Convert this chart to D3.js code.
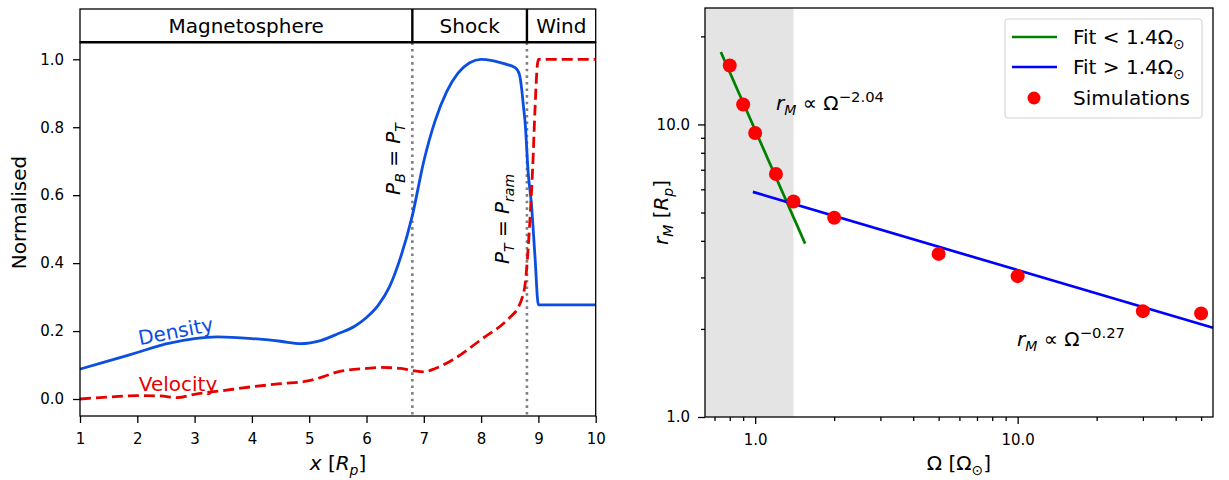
<!DOCTYPE html>
<html>
<head>
<meta charset="utf-8">
<script src="https://cdn.jsdelivr.net/npm/d3@7"></script>
<style>
  body { margin: 0; background: #fff; }
  svg { display: block; font-family: "DejaVu Sans", sans-serif; }
  text { white-space: pre; }
</style>
</head>
<body>
<div id="chart"></div>
<script>
// left panel: profiles along x
const densX = [1, 1.5, 2, 2.5, 3, 3.4, 4, 4.5, 4.85, 5.2, 5.5, 5.8, 6.0, 6.2, 6.4, 6.6, 6.8, 7.0, 7.2, 7.4, 7.6, 7.8, 8.0, 8.2, 8.4, 8.6, 8.67, 8.71, 8.74, 8.77, 8.82, 8.88, 8.94, 9.0, 10];
const density = [0.088, 0.112, 0.137, 0.162, 0.178, 0.183, 0.178, 0.17, 0.163, 0.172, 0.192, 0.215, 0.24, 0.275, 0.33, 0.42, 0.54, 0.70, 0.82, 0.905, 0.96, 0.99, 1.0, 0.996, 0.987, 0.975, 0.955, 0.91, 0.86, 0.81, 0.67, 0.57, 0.42, 0.277, 0.277];
const velX = [1, 1.5, 2, 2.4, 2.7, 3.0, 3.5, 4, 4.5, 5, 5.25, 5.5, 6.0, 6.25, 6.6, 6.8, 7.0, 7.2, 7.5, 8.0, 8.5, 8.65, 8.72, 8.77, 8.82, 8.86, 8.9, 8.94, 8.98, 9.0, 10];
const velocity = [0, 0.006, 0.01, 0.009, 0.004, 0.014, 0.025, 0.036, 0.045, 0.054, 0.066, 0.08, 0.09, 0.093, 0.09, 0.084, 0.08, 0.09, 0.115, 0.175, 0.24, 0.27, 0.30, 0.34, 0.44, 0.55, 0.68, 0.85, 0.98, 1.0, 1.0];
const boundaries = [6.8, 8.8];
const regions = [["Magnetosphere", 1, 6.8], ["Shock", 6.8, 8.8], ["Wind", 8.8, 10]];
const xTicksL = [1, 2, 3, 4, 5, 6, 7, 8, 9, 10];
const yTicksL = [0, 0.2, 0.4, 0.6, 0.8, 1.0];

// right panel: magnetopause distance vs rotation rate
const omega = [0.8, 0.9, 1.0, 1.2, 1.4, 2, 5, 10, 30, 50];
const rM = [15.9, 11.7, 9.35, 6.77, 5.45, 4.8, 3.61, 3.03, 2.30, 2.26];
const fitLow = { a: 9.57, k: -2.04, from: 0.74, to: 1.55 };
const fitHigh = { a: 5.85, k: -0.265, from: 0.98, to: 55.5 };
const shadeTo = 1.4;
const xTicksR = [1, 10];
const xMinorR = [0.7, 0.8, 0.9, 2, 3, 4, 5, 6, 7, 8, 9, 20, 30, 40, 50];
const yTicksR = [1, 10];
const yMinorR = [2, 3, 4, 5, 6, 7, 8, 9, 20];

const W = 1229, H = 480;
const blueL = "#0b4ee0", redL = "#e60000";

const svg = d3.select("#chart").append("svg")
    .attr("width", W)
    .attr("height", H);

// write a label made of plain / italic / sub / sup pieces
const mathText = (g, parts, fs) => {
    const t = g.append("text").attr("font-size", fs);
    let shift = 0;
    parts.forEach(p => {
        let target = p.sub ? 0.24 * fs : p.sup ? -0.4 * fs : 0;
        t.append("tspan")
            .text(p.t)
            .attr("dy", target - shift)
            .attr("font-size", p.sub ? fs * 0.7 : p.sup ? fs * 0.74 : fs)
            .attr("font-style", p.it ? "italic" : "normal");
        shift = target;
    });
    return t;
};

const styleAxis = (g) => {
    g.select(".domain").remove();
    g.selectAll(".tick line").attr("stroke", "#000").attr("stroke-width", 1.3);
    g.selectAll(".tick text").attr("font-size", 15).attr("fill", "#000")
        .attr("font-family", "DejaVu Sans");
};

// ---------------- left panel ----------------
const xL = d3.scaleLinear().domain([1, 10]).range([80, 595.7]);
const yL = d3.scaleLinear().domain([-0.05, 1.05]).range([416, 42.3]);
const headTop = 9;

const left = svg.append("g");

left.append("g")
    .attr("transform", "translate(0,416)")
    .call(d3.axisBottom(xL).tickValues(xTicksL).tickSize(7).tickPadding(10).tickFormat(d3.format("d")))
    .call(styleAxis);

left.append("g")
    .attr("transform", "translate(80,0)")
    .call(d3.axisLeft(yL).tickValues(yTicksL).tickSize(7).tickPadding(9).tickFormat(d3.format(".1f")))
    .call(styleAxis);

// boundaries
left.selectAll(".bound")
    .data(boundaries)
    .enter()
    .append("line")
    .attr("x1", d => xL(d)).attr("x2", d => xL(d))
    .attr("y1", yL.range()[1]).attr("y2", yL.range()[0])
    .attr("stroke", "#808080")
    .attr("stroke-width", 2.6)
    .attr("stroke-dasharray", "2.6,4");

const lineL = d3.line()
    .x(d => xL(d[0]))
    .y(d => yL(d[1]))
    .curve(d3.curveMonotoneX);

left.append("path")
    .attr("d", lineL(densX.map((x, i) => [x, density[i]])))
    .attr("fill", "none")
    .attr("stroke", blueL)
    .attr("stroke-width", 2.8);

left.append("path")
    .attr("d", lineL(velX.map((x, i) => [x, velocity[i]])))
    .attr("fill", "none")
    .attr("stroke", redL)
    .attr("stroke-width", 2.8)
    .attr("stroke-dasharray", "11,5");

left.append("text")
    .attr("transform", "translate(177,338) rotate(-11)")
    .attr("text-anchor", "middle")
    .attr("font-size", 20)
    .attr("fill", blueL)
    .text("Density");

left.append("text")
    .attr("x", 178).attr("y", 391)
    .attr("text-anchor", "middle")
    .attr("font-size", 20)
    .attr("fill", redL)
    .text("Velocity");

mathText(left, [{ t: "P", it: 1 }, { t: "B", it: 1, sub: 1 }, { t: " = " }, { t: "P", it: 1 }, { t: "T", it: 1, sub: 1 }], 20)
    .attr("transform", "translate(400,159) rotate(-90)")
    .attr("text-anchor", "middle");

mathText(left, [{ t: "P", it: 1 }, { t: "T", it: 1, sub: 1 }, { t: " = " }, { t: "P", it: 1 }, { t: "ram", it: 1, sub: 1 }], 20)
    .attr("transform", "translate(509,219) rotate(-90)")
    .attr("text-anchor", "middle");

// frame
left.append("rect")
    .attr("x", xL.range()[0]).attr("y", yL.range()[1])
    .attr("width", xL.range()[1] - xL.range()[0])
    .attr("height", yL.range()[0] - yL.range()[1])
    .attr("fill", "none").attr("stroke", "#000").attr("stroke-width", 1.3);

// region header
left.append("rect")
    .attr("x", xL.range()[0]).attr("y", headTop)
    .attr("width", xL.range()[1] - xL.range()[0])
    .attr("height", yL.range()[1] - headTop)
    .attr("fill", "none").attr("stroke", "#000").attr("stroke-width", 1.3);
left.append("line")
    .attr("x1", xL.range()[0]).attr("x2", xL.range()[1])
    .attr("y1", yL.range()[1]).attr("y2", yL.range()[1])
    .attr("stroke", "#000").attr("stroke-width", 2.6);
left.selectAll(".div")
    .data(boundaries)
    .enter()
    .append("line")
    .attr("x1", d => xL(d)).attr("x2", d => xL(d))
    .attr("y1", headTop).attr("y2", yL.range()[1])
    .attr("stroke", "#000").attr("stroke-width", 2.4);
left.selectAll(".region")
    .data(regions)
    .enter()
    .append("text")
    .attr("x", d => (xL(d[1]) + xL(d[2])) / 2)
    .attr("y", 33)
    .attr("text-anchor", "middle")
    .attr("font-size", 20)
    .text(d => d[0]);

mathText(left, [{ t: "Normalised" }], 20)
    .attr("transform", "translate(26,212.5) rotate(-90)")
    .attr("text-anchor", "middle");

mathText(left, [{ t: "x", it: 1 }, { t: " [" }, { t: "R", it: 1 }, { t: "p", it: 1, sub: 1 }, { t: "]" }], 20)
    .attr("x", 338).attr("y", 470)
    .attr("text-anchor", "middle");

// ---------------- right panel ----------------
const xR = d3.scaleLog().domain([0.644, 55.5]).range([705, 1213]);
const yR = d3.scaleLog().domain([1, 25]).range([417, 8]);

const right = svg.append("g");

right.append("rect")
    .attr("x", xR.range()[0]).attr("y", yR.range()[1])
    .attr("width", xR(shadeTo) - xR.range()[0])
    .attr("height", yR.range()[0] - yR.range()[1])
    .attr("fill", "#e4e4e4");

right.append("g")
    .attr("transform", "translate(0,417)")
    .call(d3.axisBottom(xR).tickValues(xTicksR).tickSize(7).tickPadding(10).tickFormat(d3.format(".1f")))
    .call(styleAxis);
right.append("g")
    .attr("transform", "translate(0,417)")
    .call(d3.axisBottom(xR).tickValues(xMinorR).tickSize(4).tickFormat(""))
    .call(styleAxis);
right.append("g")
    .attr("transform", "translate(705,0)")
    .call(d3.axisLeft(yR).tickValues(yTicksR).tickSize(7).tickPadding(8).tickFormat(d3.format(".1f")))
    .call(styleAxis);
right.append("g")
    .attr("transform", "translate(705,0)")
    .call(d3.axisLeft(yR).tickValues(yMinorR).tickSize(4).tickFormat(""))
    .call(styleAxis);

const fitLine = (f) => d3.line()
    .x(d => xR(d))
    .y(d => yR(f.a * Math.pow(d, f.k)))([f.from, f.to]);

right.append("path")
    .attr("d", fitLine(fitLow))
    .attr("stroke", "#008000").attr("stroke-width", 2.7).attr("fill", "none");
right.append("path")
    .attr("d", fitLine(fitHigh))
    .attr("stroke", "#0000ff").attr("stroke-width", 2.7).attr("fill", "none");

right.append("g")
    .selectAll("circle")
    .data(omega)
    .enter()
    .append("circle")
    .attr("cx", d => xR(d))
    .attr("cy", (d, i) => yR(rM[i]))
    .attr("r", 7)
    .attr("fill", "#ff0000");

mathText(right, [{ t: "r", it: 1 }, { t: "M", it: 1, sub: 1 }, { t: " ∝ Ω" }, { t: "−2.04", sup: 1 }], 20)
    .attr("x", 776).attr("y", 110);
mathText(right, [{ t: "r", it: 1 }, { t: "M", it: 1, sub: 1 }, { t: " ∝ Ω" }, { t: "−0.27", sup: 1 }], 20)
    .attr("x", 1017).attr("y", 346);

right.append("rect")
    .attr("x", xR.range()[0]).attr("y", yR.range()[1])
    .attr("width", xR.range()[1] - xR.range()[0])
    .attr("height", yR.range()[0] - yR.range()[1])
    .attr("fill", "none").attr("stroke", "#000").attr("stroke-width", 1.3);

// legend
const legend = right.append("g").attr("transform", "translate(1005,19)");
legend.append("rect")
    .attr("width", 197).attr("height", 99).attr("rx", 3)
    .attr("fill", "#fff").attr("fill-opacity", 0.8)
    .attr("stroke", "#d0d0d0").attr("stroke-width", 1);
const legItems = [
    { c: "#008000", sym: "<", y: 18 },
    { c: "#0000ff", sym: ">", y: 48 }
];
legItems.forEach(it => {
    legend.append("line")
        .attr("x1", 7).attr("x2", 52).attr("y1", it.y).attr("y2", it.y)
        .attr("stroke", it.c).attr("stroke-width", 2.7);
    mathText(legend, [{ t: "Fit " + it.sym + " 1.4Ω" }, { t: "⊙", sub: 1 }], 20)
        .attr("x", 68).attr("y", it.y + 7);
});
legend.append("circle")
    .attr("cx", 29).attr("cy", 79).attr("r", 6.5).attr("fill", "#ff0000");
legend.append("text")
    .attr("x", 68).attr("y", 86)
    .attr("font-size", 20)
    .text("Simulations");

mathText(right, [{ t: "r", it: 1 }, { t: "M", it: 1, sub: 1 }, { t: " [" }, { t: "R", it: 1 }, { t: "p", it: 1, sub: 1 }, { t: "]" }], 20)
    .attr("transform", "translate(668,212.5) rotate(-90)")
    .attr("text-anchor", "middle");

mathText(right, [{ t: "Ω [Ω" }, { t: "⊙", sub: 1 }, { t: "]" }], 20)
    .attr("x", 959).attr("y", 470)
    .attr("text-anchor", "middle");
</script>
</body>
</html>
